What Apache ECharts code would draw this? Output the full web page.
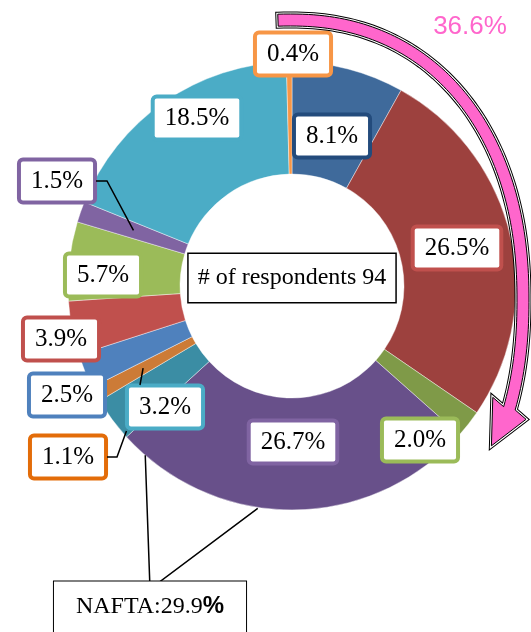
<!DOCTYPE html>
<html>
<head>
<meta charset="utf-8">
<script src="https://cdn.jsdelivr.net/npm/echarts@6/dist/echarts.min.js"></script>
<style>
  html, body { margin: 0; padding: 0; background: #fff; }
  #chart { width: 531px; height: 632px; }
</style>
</head>
<body>
<div id="chart"></div>
<script>
// share of respondents per region, clockwise from 12 o'clock
const shares = [8.1, 26.5, 2.0, 26.7, 3.2, 1.1, 2.5, 3.9, 5.7, 1.5, 18.5, 0.4];
const respondents = 94;
const naftaShare = 29.9;
const arrowShare = 36.6;

const sliceColors = ["#3F6A9B", "#9D413E", "#7F9A48", "#68508A", "#3B8DA4", "#CC7B37",
                     "#4F81BD", "#C0504D", "#9BBB59", "#8064A2", "#4BACC6", "#F79646"];
const boxColors = ["#234B7C", "#C0504D", "#9BBB59", "#8064A2", "#4BACC6", "#E36C09",
                   "#4F81BD", "#C0504D", "#9BBB59", "#8064A2", "#4BACC6", "#F79646"];
// label box centres (manually placed in the original)
const labelPos = [[332, 136], [457, 248], [420, 440], [293, 442], [165, 407], [68, 457],
                  [67, 395], [61, 339], [103, 275], [57, 181], [197, 118], [293, 54]];

const cx = 292, cy = 286, r0 = 112, r1 = 224;
const total = shares.reduce((s, v) => s + v, 0);
const cum = [];
let acc = 0;
shares.forEach((v) => { cum.push(acc); acc += v; });

function pointAt(i, frac, r) {
  const a = (cum[i] + frac * shares[i]) / total * 2 * Math.PI;
  return [cx + r * Math.sin(a), cy - r * Math.cos(a)];
}

// leader lines
const leaders = [
  [[96, 181], [107, 181], pointAt(9, 0.5, 168)],
  [[140, 385], pointAt(5, 0.5, 170)],
  [[107, 457], [117, 457], pointAt(4, 0.1, 220)],
  [pointAt(3, 0.93, 224), [150, 589], pointAt(3, 0.595, 225)],
];

// curved arrow along the first 36.6% (slightly squarish ellipse)
const ax = 290, ay = 300, aa = 233, ab = 280, hw = 6, ex = 2 / 2.2;
const pw = (v) => Math.sign(v) * Math.pow(Math.abs(v), ex);
const mid = (t) => [ax + aa * pw(Math.sin(t)), ay - ab * pw(Math.cos(t))];
function ell(t, off) {
  const p = mid(t), q1 = mid(t - 0.001), q2 = mid(t + 0.001);
  const dx = q2[0] - q1[0], dy = q2[1] - q1[1], n = Math.hypot(dx, dy);
  return [p[0] + off * dy / n, p[1] - off * dx / n];
}
const t0 = -2.2 * Math.PI / 180, t1 = 110.6 * Math.PI / 180;
const outer = [], inner = [];
for (let k = 0; k <= 100; k++) {
  const t = t0 + (t1 - t0) * k / 100;
  outer.push(ell(t, hw));
  inner.push(ell(t, -hw));
}
const M = mid(t1);
const m1 = mid(t1 - 0.001), m2 = mid(t1 + 0.001);
const tl = Math.hypot(m2[0] - m1[0], m2[1] - m1[1]);
const T = [(m2[0] - m1[0]) / tl, (m2[1] - m1[1]) / tl];
const N = [T[1], -T[0]];
const hp = (a, b) => [M[0] + a * T[0] + b * N[0], M[1] + a * T[1] + b * N[1]];
const arrowPts = outer.concat([hp(6, 19), hp(41, -7), hp(-6, -19)], inner.reverse());

const chart = echarts.init(document.getElementById("chart"));

const graphic = [];
[["#000", 5], ["#fff", 3], ["#000", 1]].forEach(([stroke, lw]) => {
  graphic.push({
    type: "polygon", z: 10,
    shape: { points: arrowPts },
    style: { fill: "#FF66CC", stroke: stroke, lineWidth: lw, lineJoin: "miter" },
  });
});
leaders.forEach((pts) => {
  graphic.push({
    type: "polyline", z: 10,
    shape: { points: pts },
    style: { stroke: "#000", lineWidth: 1.5, fill: null },
  });
});
graphic.push({
  type: "text", x: 470, y: 27, z: 10,
  style: {
    text: arrowShare.toFixed(1) + "%", fontSize: 26, fontFamily: "Liberation Sans",
    fill: "#FF66CC", align: "center", verticalAlign: "middle",
  },
});
graphic.push({
  type: "text", x: 292, y: 278, z: 10,
  style: {
    text: "# of respondents " + respondents, fontSize: 24, fontFamily: "Liberation Serif",
    fill: "#000", align: "center", verticalAlign: "middle",
    backgroundColor: "#fff", borderColor: "#000", borderWidth: 1.5, padding: [12, 9],
  },
});
graphic.push({
  type: "text", x: 150, y: 615, z: 10,
  style: {
    text: "{a|NAFTA:" + naftaShare.toFixed(1) + "}{b|%}",
    align: "center", verticalAlign: "middle",
    backgroundColor: "#fff", borderColor: "#000", borderWidth: 1, padding: [13, 22, 30, 22],
    rich: {
      a: { fontSize: 24, fontFamily: "Liberation Serif", fill: "#000" },
      b: { fontSize: 24, fontFamily: "Liberation Sans", fontWeight: "bold", fill: "#000" },
    },
  },
});

chart.setOption({
  animation: false,
  series: [
    {
      type: "pie",
      center: [cx, cy],
      radius: [r0, r1],
      startAngle: 90,
      clockwise: true,
      avoidLabelOverlap: false,
      silent: true,
      itemStyle: { borderColor: "rgba(255,255,255,0.7)", borderWidth: 0.6 },
      label: {
        show: true,
        position: "inside",
        formatter: (p) => p.value.toFixed(1) + "%",
        fontFamily: "Liberation Serif",
        fontSize: 25,
        lineHeight: 27,
        color: "#000",
        backgroundColor: "#fff",
        borderWidth: 4,
        borderRadius: 2,
        padding: [6, 10],
      },
      labelLine: { show: false },
      labelLayout: (p) => ({
        x: labelPos[p.dataIndex][0],
        y: labelPos[p.dataIndex][1],
        align: "center",
        verticalAlign: "middle",
      }),
      data: shares.map((v, i) => ({
        value: v,
        itemStyle: { color: sliceColors[i] },
        label: { borderColor: boxColors[i] },
      })),
    },
  ],
  graphic: graphic,
});
</script>
</body>
</html>
